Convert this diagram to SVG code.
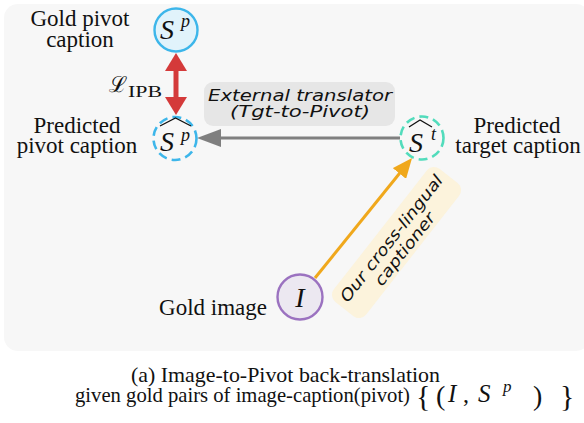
<svg xmlns="http://www.w3.org/2000/svg" width="584" height="423" viewBox="0 0 584 423">
  <style>
    .serif { font-family: "Liberation Serif", "DejaVu Serif", serif; fill: #111; }
    .label { font-size: 23px; text-anchor: middle; }
    .math { font-family: "Liberation Serif", "DejaVu Serif", serif; font-style: italic; fill: #111; }
    .hand { font-family: "DejaVu Sans", "Noto Sans", sans-serif; font-style: italic; font-size: 16px; fill: #111; text-anchor: middle; }
    .hat { fill: none; stroke: #111; stroke-width: 1.3; }
    .dashed { stroke-width: 2.6; stroke-dasharray: 9 5; }
  </style>
  <defs>
    <marker id="head-red" viewBox="0 0 18 22" markerWidth="18" markerHeight="22" refX="6" refY="11" orient="auto-start-reverse" markerUnits="userSpaceOnUse">
      <path d="M0,0 L18,11 L0,22 z" fill="#d43a3a"/>
    </marker>
    <marker id="head-gray" viewBox="0 0 24 18" markerWidth="24" markerHeight="18" refX="9" refY="9" orient="auto" markerUnits="userSpaceOnUse">
      <path d="M0,0 L24,9 L0,18 z" fill="#7f7f7f"/>
    </marker>
    <marker id="head-orange" viewBox="0 0 20 17" markerWidth="20" markerHeight="17" refX="8" refY="8.5" orient="auto" markerUnits="userSpaceOnUse">
      <path d="M0,0 L20,8.5 L0,17 z" fill="#f0a81c"/>
    </marker>
  </defs>

  <!-- panel -->
  <rect x="4" y="4" width="586" height="347" rx="14" fill="#f7f7f7"/>

  <!-- edge labels: backgrounds and text -->
  <g id="label-translator">
    <rect x="204" y="82" width="191" height="44" rx="9" fill="#e6e6e6"/>
    <text class="hand" x="300" y="101" textLength="184" lengthAdjust="spacingAndGlyphs">External translator</text>
    <text class="hand" x="300" y="117" textLength="140" lengthAdjust="spacingAndGlyphs">(Tgt-to-Pivot)</text>
  </g>
  <g id="label-captioner" transform="translate(396.5 242.5) rotate(-52)">
    <rect x="-84.5" y="-20.5" width="169" height="41" rx="9" fill="#fcf3dc"/>
    <text class="hand" x="0" y="-1" textLength="156" lengthAdjust="spacingAndGlyphs">Our cross-lingual</text>
    <text class="hand" x="0" y="16" textLength="88" lengthAdjust="spacingAndGlyphs">captioner</text>
  </g>

  <!-- connectors -->
  <g id="connectors">
    <line x1="176" y1="65" x2="176" y2="103" stroke="#d43a3a" stroke-width="5" marker-start="url(#head-red)" marker-end="url(#head-red)"/>
    <line x1="400" y1="138" x2="212" y2="138" stroke="#7f7f7f" stroke-width="3" marker-end="url(#head-gray)"/>
    <line x1="315" y1="278" x2="404.5" y2="167.3" stroke="#f0a81c" stroke-width="3" marker-end="url(#head-orange)"/>
  </g>

  <!-- loss label -->
  <g id="loss-label">
    <text x="109" y="92" font-family="DejaVu Serif, serif" font-size="22" fill="#111">ℒ</text>
    <text class="serif" x="128" y="97" font-size="16" textLength="34" lengthAdjust="spacingAndGlyphs">IPB</text>
  </g>

  <!-- gold pivot caption node -->
  <g id="node-gold-pivot">
    <circle cx="176" cy="30" r="21.5" fill="#e1f3fb" stroke="#3db6ea" stroke-width="2.4"/>
    <text class="math" x="160" y="39" font-size="28">S</text>
    <text class="math" x="181" y="27" font-size="18">p</text>
    <text class="serif label" x="80" y="26">Gold pivot</text>
    <text class="serif label" x="80" y="47">caption</text>
  </g>

  <!-- predicted pivot caption node -->
  <g id="node-pred-pivot">
    <circle cx="175" cy="138.5" r="21.5" fill="#f7f7f7" stroke="#3db6ea" class="dashed"/>
    <polyline class="hat" points="160,126 175.5,118 191,126"/>
    <text class="math" x="160" y="151" font-size="28">S</text>
    <text class="math" x="181" y="141" font-size="18">p</text>
    <text class="serif label" x="77" y="133">Predicted</text>
    <text class="serif label" x="77" y="153">pivot caption</text>
  </g>

  <!-- predicted target caption node -->
  <g id="node-pred-target">
    <circle cx="422" cy="138" r="21.5" fill="#f7f7f7" stroke="#52dcbc" class="dashed"/>
    <polyline class="hat" points="409,127 420,120 432,127"/>
    <text class="math" x="409" y="152" font-size="28">S</text>
    <text class="math" x="431" y="140" font-size="18">t</text>
    <text class="serif label" x="517" y="133">Predicted</text>
    <text class="serif label" x="518" y="153">target caption</text>
  </g>

  <!-- gold image node -->
  <g id="node-gold-image">
    <circle cx="300" cy="297" r="22.5" fill="#ece8f1" stroke="#9b72c0" stroke-width="2.4"/>
    <text class="math" x="300" y="307" font-size="28" text-anchor="middle">I</text>
    <text class="serif label" x="213" y="315">Gold image</text>
  </g>

  <!-- figure caption -->
  <g id="caption">
    <text class="serif" x="131" y="382" font-size="21.5" textLength="309" lengthAdjust="spacingAndGlyphs">(a) Image-to-Pivot back-translation</text>
    <text class="serif" x="75" y="402" font-size="21" textLength="335" lengthAdjust="spacingAndGlyphs">given gold pairs of image-caption(pivot)</text>
    <text class="serif" x="416" y="406" font-size="30">{</text>
    <text class="serif" x="436" y="405" font-size="28">(</text>
    <text class="math" x="448" y="402" font-size="25">I</text>
    <text class="serif" x="463" y="402" font-size="24">,</text>
    <text class="math" x="478" y="402" font-size="25">S</text>
    <text class="math" x="503" y="392" font-size="17">p</text>
    <text class="serif" x="533" y="405" font-size="28">)</text>
    <text class="serif" x="560" y="406" font-size="30">}</text>
  </g>
</svg>
